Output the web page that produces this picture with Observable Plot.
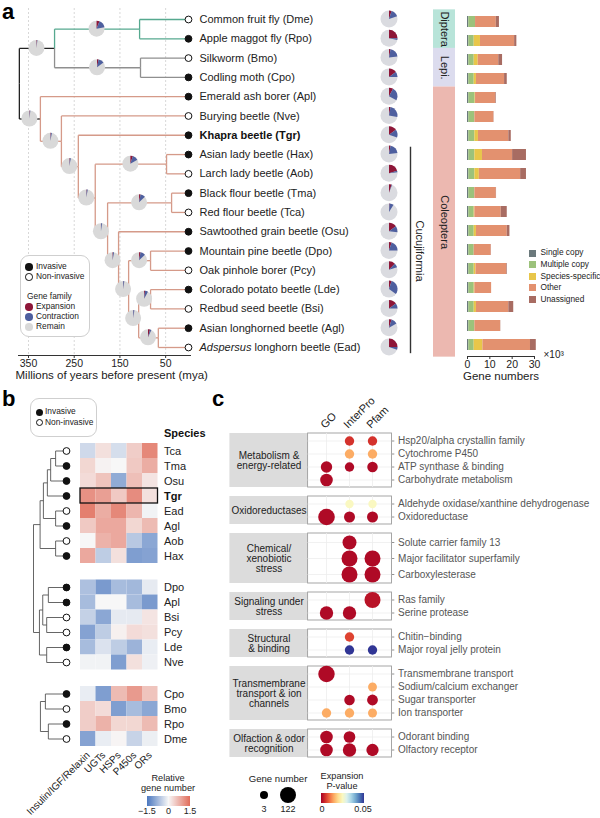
<!DOCTYPE html>
<html>
<head>
<meta charset="utf-8">
<script src="https://cdn.jsdelivr.net/npm/d3@7"></script>
<script src="https://cdn.jsdelivr.net/npm/@observablehq/plot@0.6"></script>
<style>
  html,body{margin:0;padding:0;background:#fff;}
  #fig{position:relative;width:600px;height:818px;overflow:hidden;font-family:"Liberation Sans",Arial,Helvetica,sans-serif;color:#222;}
  #fig > svg{position:absolute;left:0;top:0;}
  .t{position:absolute;white-space:nowrap;line-height:1;}
  .box{position:absolute;border:1px solid #cfcfcf;border-radius:9px;background:#fff;box-sizing:border-box;}
  .mk{position:absolute;border-radius:50%;box-sizing:border-box;}
  .sq{position:absolute;}
</style>
</head>
<body>
<div id="fig"></div>
<script>
// ======================= DATA =======================
// ---- panel a : species (top to bottom) ----
const speciesNames = ["Common fruit fly (Dme)", "Apple maggot fly (Rpo)", "Silkworm (Bmo)", "Codling moth (Cpo)",
  "Emerald ash borer (Apl)", "Burying beetle (Nve)", "Khapra beetle (Tgr)", "Asian lady beetle (Hax)",
  "Larch lady beetle (Aob)", "Black flour beetle (Tma)", "Red flour beetle (Tca)", "Sawtoothed grain beetle (Osu)",
  "Mountain pine beetle (Dpo)", "Oak pinhole borer (Pcy)", "Colorado potato beetle (Lde)", "Redbud seed beetle (Bsi)",
  "Asian longhorned beetle (Agl)", "Adspersus longhorn beetle (Ead)"];
const speciesCodes = ["Dme","Rpo","Bmo","Cpo","Apl","Nve","Tgr","Hax","Aob","Tma","Tca","Osu","Dpo","Pcy","Lde","Bsi","Agl","Ead"];
const invasive = [0,1,0,1,1,0,1,1,0,1,0,1,1,0,1,0,1,0];
const insectOrder = ["Diptera","Diptera","Lepi.","Lepi.","Coleoptera","Coleoptera","Coleoptera","Coleoptera","Coleoptera",
  "Coleoptera","Coleoptera","Coleoptera","Coleoptera","Coleoptera","Coleoptera","Coleoptera","Coleoptera","Coleoptera"];
const cucujiformia = ["Hax","Aob","Tma","Tca","Osu","Dpo","Pcy","Lde","Bsi","Agl","Ead"];

// ---- panel a : time tree (ages in mya) ----
const nodeIds     = ["root","pan","dip","lep","col","r1","r2","cuc","cocc","r4","ten","r5","r6","curc","r7","chry","ceram"];
const nodeParents = [null,"root","pan","pan","root","col","r1","r2","cuc","cuc","r4","r4","r5","r6","r6","r7","r7"];
const nodeAges    = [370, 293, 107, 105, 324, 278, 241, 204, 48, 177, 37, 153, 131, 83, 109, 83, 66];
const tipParents  = ["dip","dip","lep","lep","col","r1","r2","cocc","cocc","ten","ten","r5","curc","curc","chry","chry","ceram","ceram"];
// gene family expansion / contraction fractions on each branch (pie charts)
const branchExpansion   = [0, 0.01, 0.06, 0.03, 0.01, 0.01, 0.01, 0.01, 0.05, 0.005, 0.03, 0.01, 0.005, 0.03, 0.005, 0.02, 0.04];
const branchContraction = [0, 0.01, 0.16, 0.12, 0.01, 0.02, 0.02, 0.02, 0.12, 0.02, 0.10, 0.02, 0.02, 0.10, 0.02, 0.06, 0.03];
const speciesExpansion   = [0.05, 0.25, 0.03, 0.15, 0.08, 0.03, 0.15, 0.03, 0.20, 0.05, 0.01, 0.15, 0.05, 0.12, 0.05, 0.15, 0.05, 0.25];
const speciesContraction = [0.15, 0.03, 0.20, 0.10, 0.25, 0.25, 0.15, 0.20, 0.03, 0.01, 0.08, 0.12, 0.20, 0.08, 0.30, 0.10, 0.12, 0.05];
const myaTicks = [350, 250, 150, 50];

// ---- panel a : gene numbers (x10^3) ----
const geneCategories = ["Single copy","Multiple copy","Species-specific","Other","Unassigned"];
const singleCopy      = [0.6,0.6,0.6,0.6,0.6,0.6,0.6,0.6,0.6,0.6,0.6,0.6,0.6,0.6,0.6,0.6,0.6,0.6];
const multipleCopy    = [3.0,2.4,2.4,2.4,2.8,2.7,2.7,2.7,2.7,2.7,2.4,2.4,2.4,2.4,2.4,2.4,2.7,2.4];
const speciesSpecific = [0.0,2.8,1.8,1.0,0.2,0.0,1.6,3.4,2.0,0.0,0.3,1.0,0.0,0.8,0.3,1.0,0.0,3.9];
const otherGenes      = [9.3,15.3,9.2,12.6,9.0,8.5,13.6,13.5,18.5,9.6,11.8,13.8,7.6,13.7,7.5,14.5,11.5,21.3];
const unassigned      = [1.4,1.0,1.7,1.2,0.3,0.1,1.1,6.2,2.6,0.1,2.7,1.2,0.1,0.3,0.0,2.2,0.1,2.6];
const geneTicks = [0, 10, 20, 30];

// ---- panel b : relative gene numbers ----
const geneFamilies = ["Insulin/IGF/Relaxin","UGTs","HSPs","P450s","ORs"];
const heatGroups = [["Tca","Tma","Osu","Tgr","Ead","Agl","Aob","Hax"], ["Dpo","Apl","Bsi","Pcy","Lde","Nve"], ["Cpo","Bmo","Rpo","Dme"]];
const relativeNumber = {
  Tca: [-0.35, 0.25, -0.3, 0.45, 1.2],
  Tma: [0.35, 0.05, 0.0, 0.5, 0.8],
  Osu: [0.3, 0.55, -0.9, 0.6, 0.2],
  Tgr: [1.1, 0.95, 0.5, 1.15, 0.25],
  Ead: [1.3, 0.8, 1.2, 0.7, -0.05],
  Agl: [0.5, 0.85, 0.85, 0.35, 0.65],
  Aob: [0.0, 0.75, 0.85, -0.55, -0.95],
  Hax: [0.85, -0.5, 0.25, -1.05, -1.0],
  Dpo: [-0.65, -1.1, -0.7, -0.75, -0.15],
  Apl: [-0.7, 0.0, 0.0, -0.7, -1.1],
  Bsi: [-0.45, -0.95, -0.15, -0.15, 0.2],
  Pcy: [-1.0, -0.5, 0.08, 0.3, 0.25],
  Lde: [-0.7, -0.25, -0.5, -0.8, -0.12],
  Nve: [-0.05, -0.05, -1.05, 0.25, -0.08],
  Cpo: [-0.12, -1.05, 0.65, 1.0, 0.55],
  Bmo: [0.45, 0.3, -1.05, -0.7, -0.95],
  Rpo: [0.45, 0.75, 0.35, 0.35, 0.65],
  Dme: [-1.0, -0.12, 0.03, -0.42, -0.1]
};
// clustering dendrograms: [height, left, right]
const heatTreeMain = [1.0,
  [0.8, [0.7, [0.58, [0.48, [0.33, "Tca", "Tma"], "Osu"], "Tgr"], [0.33, "Ead", "Agl"]], [0.33, "Aob", "Hax"]],
  [0.82, [0.72, [0.55, "Dpo", "Apl"], [0.6, "Bsi", "Pcy"]], [0.6, "Lde", "Nve"]]];
const heatTreeLepDip = [0.79, [0.64, "Cpo", "Bmo"], [0.55, "Rpo", "Dme"]];

// ---- panel c : enrichment ----
const enrichGroups = ["Metabolism &\nenergy-related", "Oxidoreductases", "Chemical/\nxenobiotic\nstress",
  "Signaling under\nstress", "Structural\n& binding", "Transmembrane\ntransport & ion\nchannels", "Olfaction & odor\nrecognition"];
const enrichTerms = ["Hsp20/alpha crystallin family","Cytochrome P450","ATP synthase & binding","Carbohydrate metabolism",
  "Aldehyde oxidase/xanthine dehydrogenase","Oxidoreductase",
  "Solute carrier family 13","Major facilitator superfamily","Carboxylesterase",
  "Ras family","Serine protease",
  "Chitin\u2212binding","Major royal jelly protein",
  "Transmembrane transport","Sodium/calcium exchanger","Sugar transporter","Ion transporter",
  "Odorant binding","Olfactory receptor"];
const termGroup = [0,0,0,0, 1,1, 2,2,2, 3,3, 4,4, 5,5,5,5, 6,6];
const databases = ["GO","InterPro","Pfam"];
// [term index, database, gene number, expansion P-value]
const enrichment = [
  [0,"InterPro",8,0.005],[0,"Pfam",8,0.005],
  [1,"InterPro",8,0.015],[1,"Pfam",8,0.015],
  [2,"GO",26,0.001],[2,"InterPro",8,0.001],[2,"Pfam",17,0.001],
  [3,"GO",42,0.001],
  [4,"InterPro",3,0.025],[4,"Pfam",3,0.025],
  [5,"GO",122,0.001],[5,"InterPro",22,0.001],[5,"Pfam",22,0.001],
  [6,"InterPro",65,0.001],
  [7,"InterPro",107,0.001],[7,"Pfam",107,0.001],
  [8,"InterPro",107,0.001],[8,"Pfam",107,0.001],
  [9,"Pfam",107,0.002],
  [10,"GO",54,0.001],[10,"InterPro",54,0.001],
  [11,"InterPro",8,0.0065],
  [12,"InterPro",8,0.05],[12,"Pfam",8,0.05],
  [13,"GO",118,0.001],
  [14,"Pfam",5,0.015],
  [15,"InterPro",17,0.001],[15,"Pfam",20,0.001],
  [16,"GO",8,0.015],[16,"InterPro",8,0.015],[16,"Pfam",6,0.015],
  [17,"GO",42,0.001],[17,"InterPro",30,0.001],
  [18,"GO",42,0.001],[18,"InterPro",54,0.001],[18,"Pfam",38,0.001]
];

// ======================= STYLE =======================
const FONT = '"Liberation Sans", Arial, Helvetica, sans-serif';
const EXP_COLOR = "#8e1638", CON_COLOR = "#4e5f9f", REMAIN_COLOR = "#d9d9d9";
const lineageColor = {Diptera:"#56a98f", Lepidoptera:"#8f8f8f", Coleoptera:"#d59a89", base:"#222"};
const orderColors = {"Diptera":"#b8e4d9", "Lepi.":"#dcdcee", "Coleoptera":"#ecb8b0"};
const geneColors = ["#6b797c","#9cc27b","#e8c64a","#e3916f","#a86c62"];
const fig = document.getElementById("fig");
const base = {width:600, height:818, style:{background:"transparent", overflow:"visible", fontFamily:FONT, color:"#222"}};
function add(svg){ fig.appendChild(svg); }

// ======================= PANEL A: TREE =======================
const nodeIndex = new Map(nodeIds.map((id,i)=>[id,i]));
const tipIndex = new Map(speciesCodes.map((c,i)=>[c,i]));
const parentOf = id => tipIndex.has(id) ? tipParents[tipIndex.get(id)] : nodeParents[nodeIndex.get(id)];
const ageOf = id => tipIndex.has(id) ? 0 : nodeAges[nodeIndex.get(id)];
const kids = new Map(nodeIds.map(id=>[id,[]]));
nodeIds.forEach((id,i)=>{ if (nodeParents[i]) kids.get(nodeParents[i]).push(id); });
speciesCodes.forEach((c,i)=>kids.get(tipParents[i]).push(c));
const yMemo = new Map();
function yOf(id){
  if (tipIndex.has(id)) return tipIndex.get(id);
  if (!yMemo.has(id)) { const ys = kids.get(id).map(yOf); yMemo.set(id, (d3.min(ys)+d3.max(ys))/2); }
  return yMemo.get(id);
}
function lineage(id){
  if (id === "pan" || id === "col" || id === "root") return "base";
  let cur = id;
  while (cur) {
    if (cur === "dip") return "Diptera";
    if (cur === "lep") return "Lepidoptera";
    if (cur === "col") return "Coleoptera";
    cur = parentOf(cur);
  }
  return "base";
}
const branches = [];
for (const id of [...nodeIds.slice(1), ...speciesCodes]) {
  const p = parentOf(id), col = lineageColor[lineage(id)];
  branches.push({x1:ageOf(p), x2:ageOf(p), y1:yOf(p), y2:yOf(id), stroke:col});
  branches.push({x1:ageOf(p), x2:ageOf(id), y1:yOf(id), y2:yOf(id), stroke:col});
}
const treePies = nodeIds.slice(1).map((id,k)=>{
  const i = k+1, p = nodeParents[i];
  const xm = (ageOf(p)+ageOf(id))/2, y = yOf(id);
  return {px: s=>s.x(xm), y, exp: branchExpansion[i], con: branchContraction[i]};
});
function pieMark(items, r, remain){
  return (index, scales) => {
    const g = d3.create("svg:g");
    const arc = d3.arc().innerRadius(0).outerRadius(r);
    for (const d of items) {
      const gg = g.append("g").attr("transform", `translate(${d.px(scales)},${scales.y(d.y)})`);
      gg.append("circle").attr("r", r).attr("fill", remain);
      const a1 = d.exp*2*Math.PI, a2 = (d.exp+d.con)*2*Math.PI;
      if (d.exp > 0) gg.append("path").attr("d", arc({startAngle:0, endAngle:a1})).attr("fill", EXP_COLOR);
      if (d.con > 0) gg.append("path").attr("d", arc({startAngle:a1, endAngle:a2})).attr("fill", CON_COLOR);
    }
    return g.node();
  };
}
const ctx = document.createElement("canvas").getContext("2d");
ctx.font = `italic 11px ${FONT}`;
const italicWord = speciesNames[17].split(" ")[0];
const italicW = ctx.measureText(italicWord).width;
const tipsIdx = d3.range(speciesCodes.length);

add(Plot.plot({
  ...base,
  marginLeft:18, marginRight:410, marginTop:8, marginBottom:818-355,
  x:{domain:[350,0], range:[28,188]},
  y:{domain:[0,17], range:[19,347], axis:null},
  marks:[
    Plot.gridX(myaTicks, {stroke:"#d8d8d8", strokeOpacity:1, strokeDasharray:"2,2"}),
    Plot.frame({anchor:"bottom", stroke:"#333"}),
    Plot.axisX(myaTicks, {tickSize:3, tickPadding:1, fontSize:10.5, label:null, stroke:"#333"}),
    Plot.text(["Millions of years before present (mya)"], {frameAnchor:"bottom-left", textAnchor:"start", dx:-3, dy:23, fontSize:11.5}),
    Plot.link(branches, {x1:"x1", x2:"x2", y1:"y1", y2:"y2", stroke:"stroke", strokeWidth:1.3}),
    pieMark(treePies, 8, REMAIN_COLOR),
    Plot.dot(tipsIdx, {x:0, y:d=>d, r:3.4, fill:d=>invasive[d] ? "#111" : "#fff", stroke:"#111", strokeWidth:1}),
    Plot.text(tipsIdx.filter(i=>i!==6 && i!==17), {x:0, y:d=>d, dx:11, text:d=>speciesNames[d], textAnchor:"start", fontSize:11, fill:"#222"}),
    Plot.text([6], {x:0, y:d=>d, dx:11, text:d=>speciesNames[d], textAnchor:"start", fontSize:11, fontWeight:"bold", fill:"#111"}),
    Plot.text([17], {x:0, y:d=>d, dx:11, text:()=>italicWord, textAnchor:"start", fontSize:11, fontStyle:"italic", fill:"#222"}),
    Plot.text([17], {x:0, y:d=>d, dx:11+italicW, text:d=>speciesNames[d].slice(italicWord.length), textAnchor:"start", fontSize:11, fill:"#222"})
  ]
}));

// ---- taxonomy band, clade bracket, species pies ----
const orderSpans = [];
insectOrder.forEach((o,i)=>{ const last = orderSpans[orderSpans.length-1]; if (last && last.name===o) last.last=i; else orderSpans.push({name:o, first:i, last:i}); });
const cucSpan = {first: tipIndex.get(cucujiformia[0]), last: tipIndex.get(cucujiformia[cucujiformia.length-1])};
const speciesPies = tipsIdx.map(i=>({px: s=>s.x(0)-44, y:i, exp:speciesExpansion[i], con:speciesContraction[i]}));
add(Plot.plot({
  ...base,
  x:{domain:[0,1], range:[433,455], axis:null},
  y:{domain:[0,17], range:[19,347], axis:null},
  marks:[
    Plot.rect(orderSpans, {x1:0, x2:1, y1:d=>d.first-0.5, y2:d=>d.last+0.5, fill:d=>orderColors[d.name]}),
    Plot.text(orderSpans, {x:0.5, y:d=>(d.first+d.last)/2, text:"name", rotate:90, fontSize:11, fill:"#222"}),
    Plot.ruleX([cucSpan], {x:0, dx:-23, y1:d=>d.first-0.38, y2:d=>d.last+0.32, stroke:"#333", strokeWidth:1.4}),
    Plot.text([cucSpan], {x:0, dx:-14, y:d=>(d.first+d.last)/2, text:()=>"Cucujiformia", rotate:90, fontSize:11, fill:"#222"}),
    pieMark(speciesPies, 8.5, "#dadbe0")
  ]
}));

// ---- gene number bars ----
const geneLong = [];
const geneSeries = [singleCopy, multipleCopy, speciesSpecific, otherGenes, unassigned];
speciesCodes.forEach((c,i)=>geneCategories.forEach((cat,k)=>geneLong.push({code:c, cat, value:geneSeries[k][i]})));
const step = (347-19)/17;
add(Plot.plot({
  ...base,
  marginLeft:467, marginRight:66, marginTop:9, marginBottom:818-356,
  x:{domain:[0,30]},
  y:{type:"band", domain:speciesCodes, range:[19-step/2, 347+step/2], paddingInner:0.42, paddingOuter:0.21, axis:null},
  color:{domain:geneCategories, range:geneColors},
  marks:[
    Plot.barX(geneLong, {x:"value", y:"code", fill:"cat"}),
    Plot.frame({anchor:"bottom", stroke:"#333"}),
    Plot.axisX(geneTicks, {tickSize:3, tickPadding:1, fontSize:10.5, label:null, stroke:"#333"}),
    Plot.text(["Gene numbers"], {frameAnchor:"bottom", dy:23, fontSize:11.5}),
    Plot.text(["\u00d710\u00b3"], {frameAnchor:"bottom-right", dx:9, dy:1, textAnchor:"start", fontSize:10})
  ]
}));

// ======================= PANEL B: HEATMAP =======================
const heatRows = [];
heatGroups.forEach((grp,g)=>grp.forEach(code=>heatRows.push({code, g, pos: heatRows.length + g*1.1})));
const rowPos = new Map(heatRows.map(r=>[r.code, r.pos]));
const dendroSegs = [];
function dendro(node){
  if (typeof node === "string") return {h:0, y:rowPos.get(node)+0.5};
  const [h,a,b] = node, A = dendro(a), B = dendro(b);
  dendroSegs.push({x1:h,x2:h,y1:A.y,y2:B.y},{x1:h,x2:A.h,y1:A.y,y2:A.y},{x1:h,x2:B.h,y1:B.y,y2:B.y});
  return {h, y:(A.y+B.y)/2};
}
dendro(heatTreeMain); dendro(heatTreeLepDip);
const heatY = {domain:[0, 20.2], range:[443, 746], axis:null};
add(Plot.plot({
  ...base,
  x:{domain:[0,1], range:[66,33], axis:null},
  y:heatY,
  marks:[
    Plot.link(dendroSegs, {x1:"x1", x2:"x2", y1:"y1", y2:"y2", stroke:"#555", strokeWidth:0.9}),
    Plot.dot(heatRows, {x:0, y:d=>d.pos+0.5, r:3.4, fill:d=>invasive[tipIndex.get(d.code)] ? "#111" : "#fff", stroke:"#111", strokeWidth:1})
  ]
}));
const heatCells = [];
heatRows.forEach(r=>geneFamilies.forEach((f,c)=>heatCells.push({c, pos:r.pos, v:relativeNumber[r.code][c]})));
const heatRange = ["#4c78bf","#f7f7f7","#e16c5a"];
add(Plot.plot({
  ...base,
  x:{domain:[0,5], range:[80,157.5], axis:null},
  y:heatY,
  color:{type:"linear", domain:[-1.5,0,1.5], range:heatRange, clamp:true},
  marks:[
    Plot.rect(heatCells, {x1:"c", x2:d=>d.c+1, y1:"pos", y2:d=>d.pos+1, fill:"v"}),
    Plot.rect(heatRows.filter(r=>r.code==="Tgr"), {x1:0, x2:5, y1:"pos", y2:d=>d.pos+1, fill:"none", stroke:"#111", strokeWidth:1.3}),
    Plot.text(heatRows.filter(r=>r.code!=="Tgr"), {x:5, dx:6, y:d=>d.pos+0.5, text:"code", textAnchor:"start", fontSize:11, fill:"#222"}),
    Plot.text(heatRows.filter(r=>r.code==="Tgr"), {x:5, dx:6, y:d=>d.pos+0.5, text:"code", textAnchor:"start", fontSize:11, fontWeight:"bold", fill:"#111"}),
    Plot.text(["Species"], {x:5, dx:6, y:-0.65, textAnchor:"start", fontSize:11, fontWeight:"bold", fill:"#111"}),
    Plot.text(geneFamilies, {x:(d,i)=>i+0.5, y:20.2, dy:7, text:d=>d, textAnchor:"end", rotate:-45, fontSize:10, fill:"#222"})
  ]
}));

// ======================= PANEL C: DOT PLOT =======================
const groupStep = enrichGroups.map((g,i)=>termGroup.filter(t=>t===i).length===3 ? 16 : 13);
const termY = [], boxes = [];
let cursor = 0;
enrichGroups.forEach((g,gi)=>{
  const terms = d3.range(enrichTerms.length).filter(t=>termGroup[t]===gi);
  const st = groupStep[gi], pad = st/2 + 1;
  const top = cursor;
  terms.forEach((t,k)=>{ termY[t] = top + pad + k*st; });
  const bottom = termY[terms[terms.length-1]] + pad;
  boxes.push({label:g, top, bottom});
  cursor = bottom + 9;
});
const enrichRows = enrichment.map(([t,db,n,p])=>({t, db, n, p}));
const gridCols = boxes.flatMap(b=>databases.map((db,i)=>({x:i, top:b.top, bottom:b.bottom})));
add(Plot.plot({
  ...base,
  x:{domain:[0,2], range:[326,372], axis:null},
  y:{domain:[0, cursor], range:[433, 433+cursor], axis:null},
  color:{type:"linear", scheme:"RdYlBu", domain:[0,0.05]},
  r:{type:"sqrt", domain:[3,122], range:[4.2,8.3]},
  marks:[
    Plot.rect(boxes, {x1:-4.2, x2:-0.8, y1:"top", y2:"bottom", fill:"#dcdcdc"}),
    Plot.rect(boxes, {x1:-0.8, x2:2.85, y1:"top", y2:"bottom", fill:"#fff", stroke:"#9c9c9c", strokeWidth:0.9}),
    Plot.ruleX(gridCols, {x:"x", y1:"top", y2:"bottom", stroke:"#eeeeee", strokeWidth:0.8}),
    Plot.ruleY(d3.range(enrichTerms.length), {y:d=>termY[d], x1:-0.8, x2:2.85, stroke:"#eeeeee", strokeWidth:0.8}),
    Plot.ruleY(d3.range(enrichTerms.length), {y:d=>termY[d], x1:2.85, x2:2.97, stroke:"#777", strokeWidth:0.8}),
    Plot.dot(enrichRows, {x:d=>databases.indexOf(d.db), y:d=>termY[d.t], r:"n", fill:"p"}),
    Plot.text(d3.range(enrichTerms.length), {x:2.85, dx:6, y:d=>termY[d], text:d=>enrichTerms[d], textAnchor:"start", fontSize:10, fill:"#555"}),
    Plot.text(boxes, {x:-2.5, y:d=>(d.top+d.bottom)/2, text:"label", textAnchor:"middle", fontSize:10, lineHeight:1.0, fill:"#222"}),
    Plot.text(databases, {x:(d,i)=>i, y:0, dx:-4, dy:-7, text:d=>d, textAnchor:"start", rotate:-45, fontSize:11, fill:"#222"})
  ]
}));

// ======================= HTML LEGENDS & LABELS =======================
function txt(s, x, y, o={}){
  const size = o.size || 9;
  const d = document.createElement("div"); d.className = "t"; d.textContent = s;
  d.style.fontSize = size+"px"; d.style.fontWeight = o.weight || "normal"; d.style.color = o.color || "#222";
  d.style.left = x+"px"; d.style.top = (y - size*0.55)+"px";
  if (o.anchor === "middle") d.style.transform = "translateX(-50%)";
  if (o.anchor === "end") d.style.transform = "translateX(-100%)";
  fig.appendChild(d); return d;
}
function marker(x, y, dia, fill, stroke){
  const d = document.createElement("div"); d.className = "mk";
  d.style.left = (x-dia/2)+"px"; d.style.top = (y-dia/2)+"px"; d.style.width = dia+"px"; d.style.height = dia+"px";
  d.style.background = fill; if (stroke) d.style.border = "1px solid "+stroke;
  fig.appendChild(d);
}
function box(x, y, w, h){ const d = document.createElement("div"); d.className = "box";
  Object.assign(d.style, {left:x+"px", top:y+"px", width:w+"px", height:h+"px"}); fig.appendChild(d); }
function rectDiv(x, y, w, h, bg){ const d = document.createElement("div"); d.className = "sq";
  Object.assign(d.style, {left:x+"px", top:y+"px", width:w+"px", height:h+"px", background:bg}); fig.appendChild(d); }

// panel letters
txt("a", 2, 13, {size:22, weight:"bold", color:"#000"});
txt("b", 2, 400, {size:22, weight:"bold", color:"#000"});
txt("c", 212, 400, {size:22, weight:"bold", color:"#000"});

// tree legend
box(20, 255, 70, 82);
marker(29, 267, 7.5, "#111");           txt("Invasive", 36, 267, {size:8.4});
marker(29, 277, 7.5, "#fff", "#111");   txt("Non-invasive", 36, 277, {size:8.4});
txt("Gene family", 27, 297, {size:8.4});
marker(29, 307, 7.5, EXP_COLOR);        txt("Expansion", 36, 307, {size:8.4});
marker(29, 317, 7.5, CON_COLOR);        txt("Contraction", 36, 317, {size:8.4});
marker(29, 327, 7.5, REMAIN_COLOR);     txt("Remain", 36, 327, {size:8.4});

// gene bar legend
geneCategories.forEach((c,i)=>{ const y = 253 + i*11.6; rectDiv(529, y-3.5, 7, 7, geneColors[i]); txt(c, 540.5, y, {size:8.3}); });

// panel b legend
box(30, 398, 67, 39);
marker(39, 412, 7, "#111");           txt("Invasive", 45, 412, {size:8.4});
marker(39, 422.5, 7, "#fff", "#111"); txt("Non-invasive", 45, 422.5, {size:8.4});
txt("Relative", 168, 779.5, {size:9.2, anchor:"middle"});
txt("gene number", 168, 789.5, {size:9.2, anchor:"middle"});
const heatScale = d3.scaleLinear().domain([-1.5,0,1.5]).range(heatRange);
rectDiv(147, 795.5, 43, 10, `linear-gradient(to right, ${d3.range(0,1.0001,0.1).map(t=>heatScale(-1.5+3*t)).join(",")})`);
txt("\u22121.5", 147, 812, {size:9, anchor:"middle"});
txt("0", 168.5, 812, {size:9, anchor:"middle"});
txt("1.5", 190, 812, {size:9, anchor:"middle"});

// panel c legends
txt("Gene number", 278, 779, {size:9.6, anchor:"middle"});
const rLeg = d3.scaleSqrt().domain([3,122]).range([4.2,8.3]);
[[3,264],[122,288]].forEach(([v,x])=>{ marker(x, 795, 2*rLeg(v), "#000"); txt(String(v), x, 810, {size:9, anchor:"middle"}); });
txt("Expansion", 342, 777, {size:9.2, anchor:"middle"});
txt("P-value", 342, 787, {size:9.2, anchor:"middle"});
rectDiv(321, 793, 43, 9.5, `linear-gradient(to right, ${d3.range(0,1.0001,0.1).map(t=>d3.interpolateRdYlBu(t)).join(",")})`);
txt("0", 322, 810, {size:9, anchor:"middle"});
txt("0.05", 363, 810, {size:9, anchor:"middle"});
</script>
</body>
</html>
